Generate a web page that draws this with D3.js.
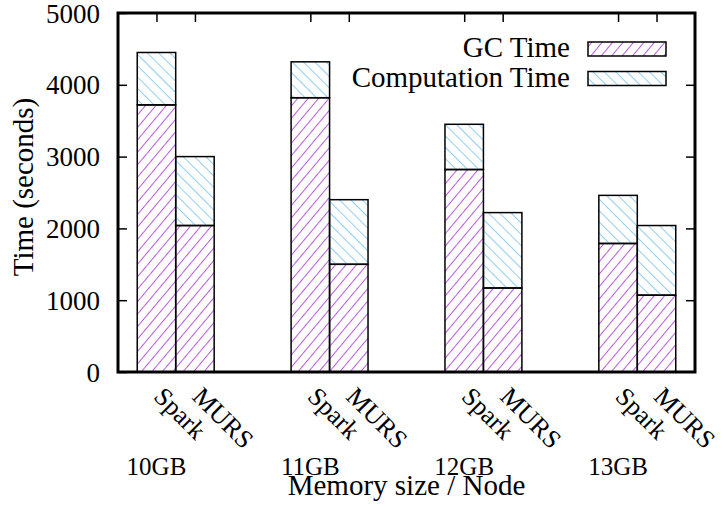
<!DOCTYPE html>
<html>
<head>
<meta charset="utf-8">
<script src="https://cdn.jsdelivr.net/npm/d3@7"></script>
<style>
  body { margin: 0; background: #fff; }
</style>
</head>
<body>
<div id="chart"></div>
<script>
"use strict";

// data
var groups = ["10GB", "11GB", "12GB", "13GB"];
var systems = ["Spark", "MURS"];
var gcTime = [[3720, 2040], [3820, 1500], [2820, 1170], [1790, 1070]];
var totalTime = [[4450, 3000], [4320, 2400], [3450, 2220], [2460, 2040]];
var yTicks = [0, 1000, 2000, 3000, 4000, 5000];
var seriesNames = ["GC Time", "Computation Time"];

var FONT = "Liberation Serif";

var W = 728, H = 507;
var margin = { top: 13, right: 33, bottom: 135, left: 118 };
var w = W - margin.left - margin.right,
    h = H - margin.top - margin.bottom;

var svg = d3.select("#chart").append("svg")
    .attr("width", W).attr("height", H)
    .attr("font-family", FONT);

// hatch patterns
var defs = svg.append("defs");
function hatch(id, color, angle) {
  defs.append("pattern")
      .attr("id", id)
      .attr("patternUnits", "userSpaceOnUse")
      .attr("width", 8).attr("height", 8)
      .attr("patternTransform", "rotate(" + angle + ")")
    .append("line")
      .attr("x1", 0).attr("y1", 0).attr("x2", 0).attr("y2", 8)
      .attr("stroke", color).attr("stroke-width", 1.3);
}
hatch("gc", "#9400d3", 40);
hatch("comp", "#56b4e9", -45);
var fills = ["url(#gc)", "url(#comp)"];

// bar slots: Spark at 4i, MURS at 4i+1
var x = d3.scaleLinear().domain([-1, 14]).range([0, w]);
var y = d3.scaleLinear().domain([0, 5000]).range([h, 0]);

var g = svg.append("g")
    .attr("transform", "translate(" + margin.left + "," + margin.top + ")");

var bars = [];
groups.forEach(function(grp, i) {
  systems.forEach(function(s, j) {
    bars.push({ pos: 4 * i + j, name: s, gc: gcTime[i][j], total: totalTime[i][j] });
  });
});

var bw = x(0.5) - x(-0.5);

// GC part
g.selectAll(".gc").data(bars).join("rect")
    .attr("class", "gc")
    .attr("x", d => x(d.pos - 0.5))
    .attr("width", bw)
    .attr("y", d => y(d.gc))
    .attr("height", d => y(0) - y(d.gc))
    .attr("fill", fills[0])
    .attr("stroke", "#000").attr("stroke-width", 1.5);

// computation part stacked on top
g.selectAll(".comp").data(bars).join("rect")
    .attr("class", "comp")
    .attr("x", d => x(d.pos - 0.5))
    .attr("width", bw)
    .attr("y", d => y(d.total))
    .attr("height", d => y(d.gc) - y(d.total))
    .attr("fill", fills[1])
    .attr("stroke", "#000").attr("stroke-width", 1.5);

// y axis, left with labels, right mirrored
var yAxis = d3.axisLeft(y).tickValues(yTicks).tickSize(-9).tickPadding(18).tickFormat(d3.format("d"));
var ya = g.append("g").call(yAxis).attr("font-family", FONT).attr("font-size", 27);
ya.select(".domain").remove();
ya.selectAll("text")
    .attr("fill", "#000")
    .attr("dy", "0.34em");

g.append("g").attr("transform", "translate(" + w + ",0)")
    .call(d3.axisRight(y).tickValues(yTicks.slice(1, -1)).tickSize(-9).tickFormat(""))
    .select(".domain").remove();

// top ticks at bar centres
g.append("g")
    .call(d3.axisTop(x).tickValues(bars.map(d => d.pos)).tickSize(-9).tickFormat(""))
    .select(".domain").remove();

g.selectAll(".tick line").attr("stroke", "#000").attr("stroke-width", 1.5);

// frame
g.append("rect")
    .attr("x", 0).attr("y", 0).attr("width", w).attr("height", h)
    .attr("fill", "none").attr("stroke", "#000").attr("stroke-width", 3);

// rotated system labels
g.selectAll(".syslab").data(bars).join("text")
    .attr("class", "syslab")
    .attr("transform", d => "translate(" + (x(d.pos) - 4) + "," + (h + 26) + ") rotate(45)")
    .attr("font-size", 26)
    .text(d => d.name);

// group labels, centred under the Spark bar of each group
g.selectAll(".grplab").data(groups).join("text")
    .attr("class", "grplab")
    .attr("x", (d, i) => x(4 * i))
    .attr("y", 475 - margin.top)
    .attr("text-anchor", "middle")
    .attr("font-size", 25)
    .text(d => d);

// axis titles
svg.append("text")
    .attr("x", margin.left + w / 2).attr("y", 495)
    .attr("text-anchor", "middle")
    .attr("font-size", 29)
    .text("Memory size / Node");

svg.append("text")
    .attr("transform", "translate(33,187) rotate(-90)")
    .attr("text-anchor", "middle")
    .attr("font-size", 29)
    .text("Time (seconds)");

// legend
var legend = svg.append("g");
seriesNames.forEach(function(name, i) {
  var ly = 49 + i * 29.5;
  legend.append("text")
      .attr("x", 570).attr("y", ly + 8)
      .attr("text-anchor", "end")
      .attr("font-size", 29)
      .text(name);
  legend.append("rect")
      .attr("x", 588).attr("y", ly - 7)
      .attr("width", 78).attr("height", 14)
      .attr("fill", fills[i])
      .attr("stroke", "#000").attr("stroke-width", 1.5);
});
</script>
</body>
</html>
